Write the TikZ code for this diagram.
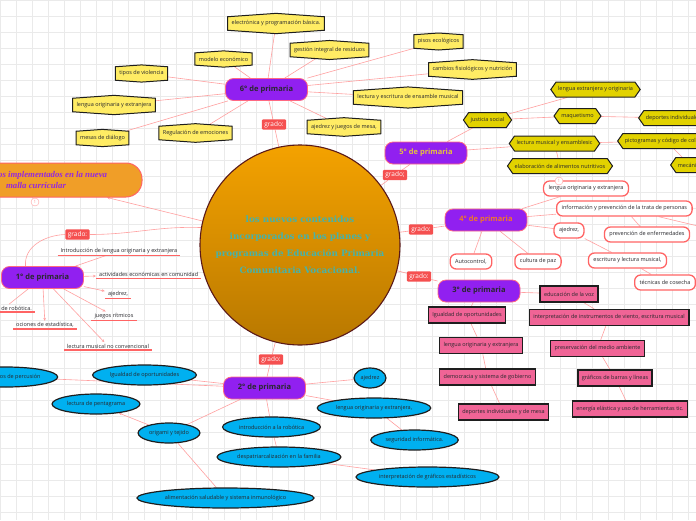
\documentclass[tikz,border=0pt]{standalone}
\usepackage{fontspec}
\setmainfont{Open Sans}
\newfontfamily\slabfont{DejaVu Serif}
\newfontfamily\titlefont{Liberation Serif}
\usepackage{tikz}
\usetikzlibrary{arrows.meta, positioning, shapes.geometric, shapes.symbols}
\pgfdeclarelayer{background}
\pgfsetlayers{background,main}

\definecolor{inkdark}{RGB}{40,40,45}
\definecolor{inkblack}{RGB}{30,30,30}
\definecolor{gridgray}{RGB}{234,234,234}
\definecolor{linkpink}{RGB}{255,160,160}
\definecolor{boxred}{RGB}{255,100,100}
\definecolor{gradered}{RGB}{245,80,80}
\definecolor{gradepurple}{RGB}{145,32,240}
\definecolor{gradeborder}{RGB}{255,105,130}
\definecolor{hubtop}{RGB}{244,162,0}
\definecolor{hubbottom}{RGB}{184,120,0}
\definecolor{hubrim}{RGB}{90,25,25}
\definecolor{hubteal}{RGB}{72,178,168}
\definecolor{curricorange}{RGB}{240,158,40}
\definecolor{curricpurple}{RGB}{150,40,220}
\definecolor{sixyellow}{RGB}{255,236,100}
\definecolor{fiveyellow}{RGB}{226,210,0}
\definecolor{threepink}{RGB}{240,100,150}
\definecolor{twocyan}{RGB}{0,176,240}
\definecolor{fivegold}{RGB}{230,195,60}
\definecolor{fourorange}{RGB}{240,120,40}

\begin{document}
\begin{tikzpicture}[
    x=1pt, y=-1pt,
    every node/.style={font=\fontsize{5.5}{6.5}\selectfont, text=inkdark},
    link/.style={draw=linkpink, line width=0.6pt},
    tip/.style={link, -{Stealth[length=3pt, width=2.6pt]}},
    hub/.style={circle, minimum size=200pt, inner sep=0pt, draw=hubrim, line width=1.1pt, top color=hubtop, bottom color=hubbottom, align=center, text=hubteal, font=\slabfont\bfseries\fontsize{8.8}{17}\selectfont},
    curric/.style={rectangle, rounded corners=16pt, fill=curricorange, draw=boxred, line width=1pt, minimum width=212pt, minimum height=34pt, align=center, text=curricpurple, font=\titlefont\bfseries\itshape\fontsize{8.8}{11.5}\selectfont},
    grade/.style={rectangle, rounded corners=8pt, fill=gradepurple, draw=gradeborder, line width=0.8pt, minimum width=82pt, minimum height=22pt, font=\bfseries\fontsize{7.5}{8}\selectfont},
    gradelabel/.style={rectangle, rounded corners=1pt, fill=gradered, text=white, inner xsep=2.5pt, inner ysep=1.8pt, font=\fontsize{6.5}{7}\selectfont},
    sixbox/.style={shape=signal, signal to=north and south, signal pointer angle=172, fill=sixyellow, draw=inkblack, line width=1pt, inner xsep=4pt, inner ysep=4pt},
    fivebox/.style={shape=signal, signal to=east and west, signal pointer angle=110, fill=fiveyellow, draw=inkblack, line width=1pt, inner xsep=2pt, minimum height=15pt},
    fourbox/.style={rectangle, rounded corners=6pt, fill=white, draw=boxred, line width=1.3pt, minimum height=15pt, inner xsep=5pt},
    threebox/.style={rectangle, fill=threepink, draw=inkblack, line width=1.5pt, minimum height=16pt, inner xsep=4pt},
    twobox/.style={ellipse, fill=twocyan, draw=inkblack, line width=1.2pt, minimum height=20pt, inner xsep=2pt, inner ysep=0pt},
    onetext/.style={inner xsep=3pt, inner ysep=1.5pt, append after command={(\tikzlastnode.south west) edge[draw=boxred, line width=1.6pt] (\tikzlastnode.south east)}},
    marker/.style={circle, draw=linkpink, fill=white, inner sep=0pt, minimum size=8pt, text=linkpink, font=\fontsize{4.5}{5}\selectfont}
]
    \useasboundingbox (0,0) rectangle (696,520);
    \clip (0,0) rectangle (696,520);
    \begin{pgfonlayer}{background}
        \fill[white] (0,0) rectangle (696,520);
        \draw[gridgray, line width=0.4pt] (0,0) grid[step=16pt] (696,520);
    \end{pgfonlayer}

    % 1° de primaria (under the hub)
    \node[grade] (p1) at (42.5,277.5) {1° de primaria};
    \node[gradelabel] (g1) at (77.5,234.5) {grado:};
    \node[onetext] (intro1) at (119,251) {Introducción de lengua originaria y extranjera};
    \node[onetext, anchor=west] (activ1) at (96,274.5) {actividades económicas en comunidad};
    \node[onetext] (ajedrez1) at (118,294) {ajedrez,};
    \node[onetext] (juegos1) at (114,316) {juegos rítmicos};
    \node[onetext] (lectura1) at (108,346) {lectura musical no convencional};
    \node[onetext] (nociones1) at (45,325) {ociones de estadística,};
    \node[onetext, anchor=east] (robot1) at (35,308) {nociones de robótica.};

    % Hub
    \node[hub] (hub) at (300,245) {los nuevos contenidos\\incorporados en los planes y\\programas de Educación Primaria\\Comunitaria Vocacional.};

    % Side box
    \node[curric] (curric) at (36,180) {Contenidos implementados en la nueva\\malla curricular};
    \node[marker] (mk1) at (35,202) {1};

    % 6° de primaria
    \node[grade] (p6) at (266.5,89.5) {6° de primaria};
    \node[gradelabel] (g6) at (274,124.5) {grado:};
    \node[sixbox] (elec6) at (276,23.5) {electrónica y programación básica.};
    \node[sixbox] (resid6) at (329.5,50) {gestión integral de residuos};
    \node[sixbox] (modelo6) at (223.5,59) {modelo económico};
    \node[sixbox] (violen6) at (141.5,73.5) {tipos de violencia};
    \node[sixbox] (lengua6) at (114,105) {lengua originaria y extranjera};
    \node[sixbox] (mesas6) at (102.5,138) {mesas de diálogo};
    \node[sixbox] (emoc6) at (195.5,133) {Regulación de emociones};
    \node[sixbox] (ajedrez6) at (344,127) {ajedrez y juegos de mesa,};
    \node[sixbox] (lectura6) at (408,97.5) {lectura y escritura de ensamble musical};
    \node[sixbox] (cambios6) at (472.5,69.5) {cambios fisiológicos y nutrición};
    \node[sixbox] (pisos6) at (438.5,41.5) {pisos ecológicos};

    % 5° de primaria
    \node[grade, text=fivegold] (p5) at (426,153) {5° de primaria};
    \node[gradelabel] (g5) at (395,175) {grado;};
    \node[fivebox] (justicia5) at (487.5,120) {justicia social};
    \node[fivebox] (lengua5) at (595.5,89.5) {lengua extranjera y originaria};
    \node[fivebox] (maquet5) at (577.5,116) {maquetismo};
    \node[fivebox, anchor=west] (deport5) at (638,118) {deportes individuales};
    \node[fivebox] (lectmus5) at (554.5,143.5) {lectura musical y ensamblesic};
    \node[fivebox, anchor=west] (picto5) at (617,141) {pictogramas y código de colores};
    \node[fivebox, anchor=west] (meca5) at (670,165) {mecánica};
    \node[fivebox] (elabor5) at (560,166) {elaboración de alimentos nutritivos};

    % 4° de primaria
    \node[grade, text=fourorange] (p4) at (486,220) {4° de primaria};
    \node[gradelabel] (g4) at (421,229.5) {grado:};
    \node[fourbox] (lengua4) at (586,188.5) {lengua originaria y extranjera};
    \node[marker] (mk2) at (559,181) {1};
    \node[fourbox, anchor=west] (info4) at (556,208.5) {información y prevención de la trata de personas};
    \coordinate (info4out) at (740,236);
    \node[fourbox] (prevenc4) at (647,234.5) {prevención de enfermedades};
    \node[fourbox] (ajedrez4) at (569,230.5) {ajedrez,};
    \node[fourbox] (escrit4) at (627.5,260.5) {escritura y lectura musical,};
    \node[fourbox, anchor=west] (tecnic4) at (634,282.5) {técnicas de cosecha};
    \node[fourbox] (autoc4) at (471,261.5) {Autocontrol,};
    \node[fourbox] (cultura4) at (538,261.5) {cultura de paz};

    % 3° de primaria
    \node[grade] (p3) at (479,291) {3° de primaria};
    \node[gradelabel] (g3) at (419,276.5) {grado:};
    \node[threebox] (voz3) at (569,294) {educación de la voz};
    \node[threebox] (interp3) at (609,317.5) {interpretación de instrumentos de viento, escritura musical};
    \node[threebox] (preserv3) at (597.5,348.5) {preservación del medio ambiente};
    \node[threebox] (grafic3) at (615,378) {gráficos de barras y líneas};
    \node[threebox] (energia3) at (630,409) {energía elástica y uso de herramientas tic.};
    \node[threebox] (igual3) at (467,315) {Igualdad de oportunidades};
    \node[threebox] (lengua3) at (481,345.5) {lengua originaria y extranjera};
    \node[threebox] (democ3) at (487.5,377) {democracia y sistema de gobierno};
    \node[threebox] (deport3) at (503.5,412) {deportes individuales y de mesa};

    % 2° de primaria
    \node[grade] (p2) at (264.5,388) {2° de primaria};
    \node[gradelabel] (g2) at (271,359.5) {grado:};
    \node[twobox] (ajedrez2) at (370,378) {ajedrez};
    \node[twobox] (lengua2) at (374,408) {lengua originaria y extranjera,};
    \node[twobox] (segur2) at (414.5,440) {seguridad informática.};
    \node[twobox] (robot2) at (271.5,427) {introducción a la robótica};
    \node[twobox] (despat2) at (279,457) {despatriarcalización en la familia};
    \node[twobox] (grafic2) at (427.5,477) {interpretación de gráficos estadísticos};
    \node[twobox] (origami2) at (169,433) {origami y tejido};
    \node[twobox] (pentag2) at (96,404) {lectura de pentagrama};
    \node[twobox] (aliment2) at (225.5,498) {alimentación saludable y sistema inmunológico};
    \node[twobox] (igual2) at (144.5,375) {Igualdad de oportunidades};
    \node[twobox] (percus2) at (6,377) {instrumentos de percusión};

    % Connectors
    \begin{pgfonlayer}{background}
        \draw[tip] (hub) -- (curric);
        \draw[link] (hub) -- (g6) -- (p6);
        \draw[link] (p6) -- (elec6) (p6) -- (resid6) (p6) -- (modelo6) (p6) -- (violen6)
            (p6) -- (lengua6) (p6) -- (mesas6) (p6) -- (emoc6) (p6) -- (ajedrez6)
            (p6) -- (lectura6) (p6) -- (cambios6) (p6) -- (pisos6);
        \draw[link] (hub) -- (g5) -- (p5);
        \draw[link] (p5) -- (justicia5) (p5) -- (lectmus5);
        \draw[link] (justicia5) -- (lengua5) (justicia5) -- (maquet5) (maquet5) -- (deport5);
        \draw[link] (lectmus5) -- (picto5) (lectmus5) -- (elabor5) (picto5) -- (meca5);
        \draw[link] (hub) -- (g4) -- (p4);
        \draw[link] (p4) -- (lengua4) (p4) -- (info4) (p4) -- (ajedrez4) (p4) -- (autoc4) (p4) -- (cultura4);
        \draw[link] (info4) -- (prevenc4) (info4) -- (info4out) (ajedrez4) -- (escrit4) (escrit4) -- (tecnic4);
        \draw[link] (hub) -- (g3) -- (p3);
        \draw[link] (p3) -- (voz3) -- (interp3) -- (preserv3) -- (grafic3) -- (energia3);
        \draw[link] (p3) -- (igual3) -- (lengua3) -- (democ3) -- (deport3);
        \draw[link] (hub) -- (g2) -- (p2);
        \draw[link] (p2) -- (ajedrez2) (p2) -- (lengua2) (p2) -- (robot2) (p2) -- (origami2)
            (p2) -- (igual2) (p2) -- (percus2);
        \draw[link] (lengua2) -- (segur2) (robot2) -- (despat2) (despat2) -- (grafic2) (origami2) -- (aliment2);
        \draw[tip] (origami2) -- (pentag2);
        \draw[link] (hub.170) to[out=178, in=0] (g1.east);
        \draw[link] (g1.west) to[out=182, in=95] ([xshift=-17pt]p1.north);
        \draw[link] (p1) -- (intro1);
        \draw[tip] (p1) -- (activ1);
        \draw[tip] (p1) -- (ajedrez1);
        \draw[tip] (p1) -- (juegos1);
        \draw[tip] (p1) -- (lectura1);
        \draw[tip] (p1) -- (nociones1);
        \draw[link] (p1) -- (robot1);
    \end{pgfonlayer}
\end{tikzpicture}
\end{document}
